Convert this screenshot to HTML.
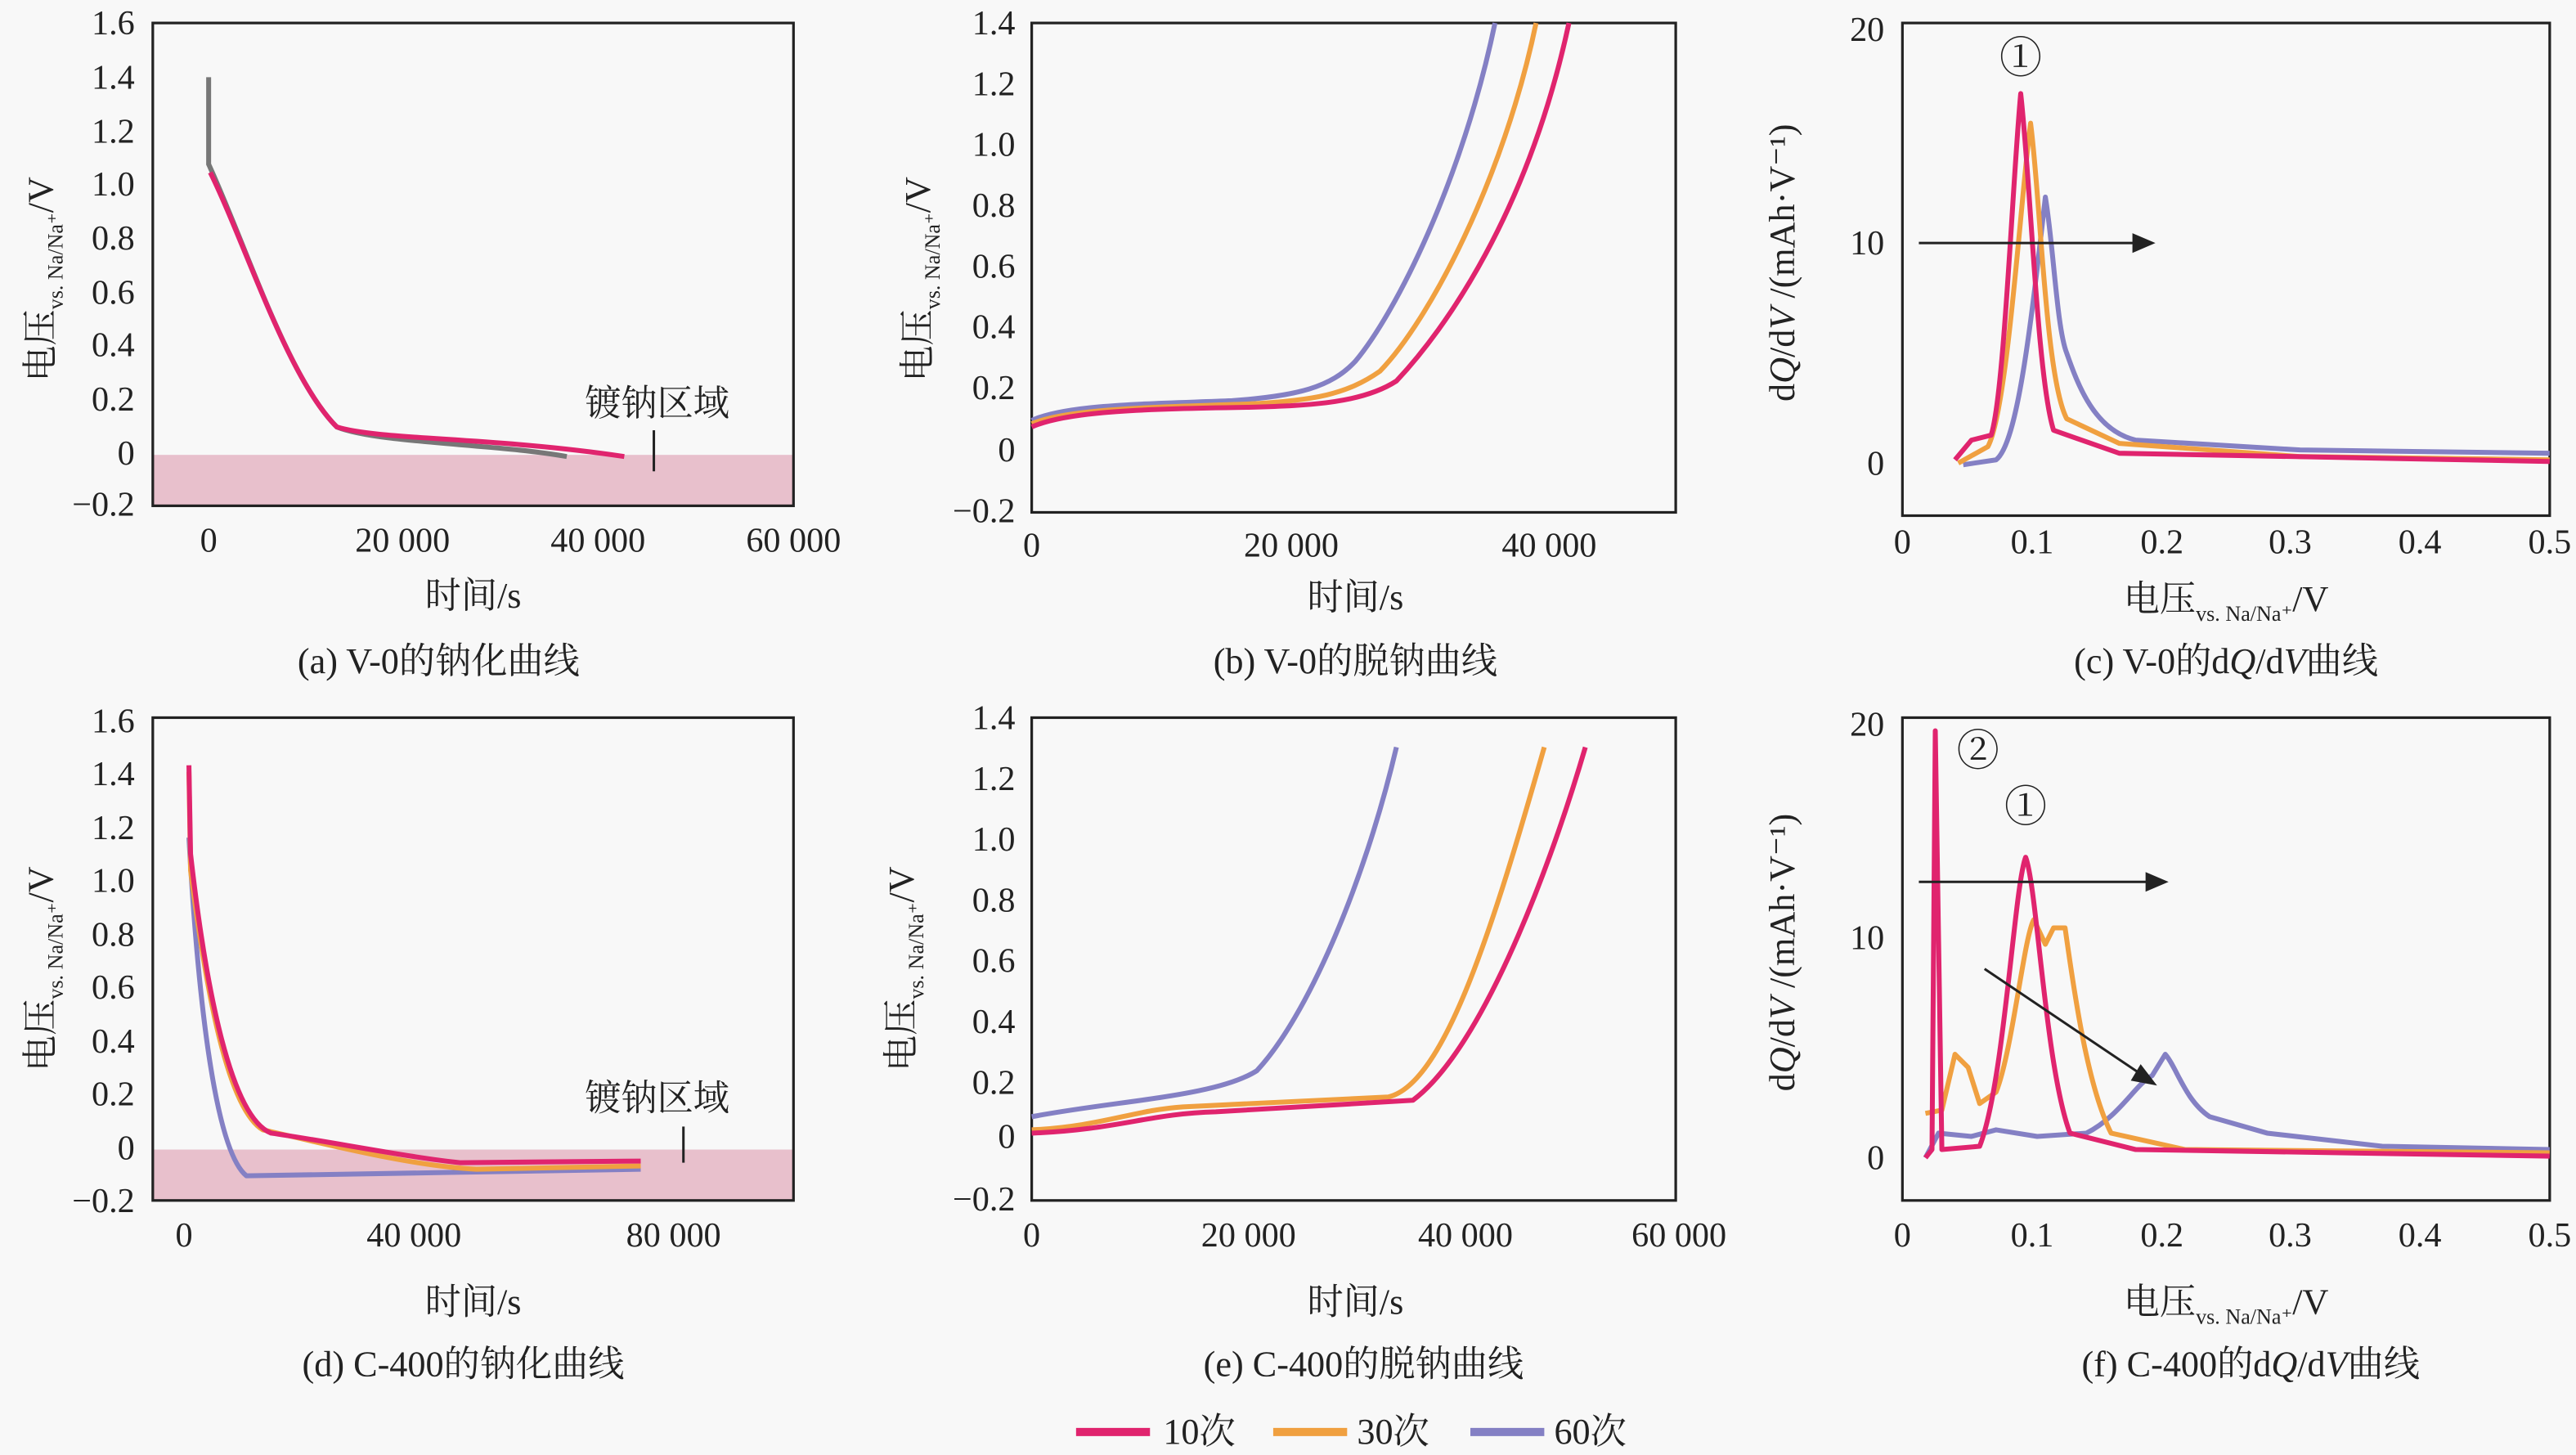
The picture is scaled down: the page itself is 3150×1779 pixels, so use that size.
<!DOCTYPE html>
<html><head><meta charset="utf-8"><style>
html,body{margin:0;padding:0;background:#f8f8f8;}
svg{display:block;}
text{font-family:"Liberation Serif","Noto Serif CJK SC",serif;fill:#222;}
.t{font-size:21px;}
.c{font-size:22px;}
.f{fill:none;stroke:#222;stroke-width:1.6;}
.p{fill:none;stroke:#e0246e;stroke-width:3;stroke-linejoin:round;}
.o{fill:none;stroke:#f0a040;stroke-width:3;stroke-linejoin:round;}
.u{fill:none;stroke:#8480c4;stroke-width:3;stroke-linejoin:round;}
.g{fill:none;stroke:#777;stroke-width:3;}
</style></head><body>
<svg width="3150" height="1779" viewBox="0 0 1568 886" preserveAspectRatio="none">
<rect width="1568" height="886" fill="#f8f8f8"/>
<!-- Panel a -->
<rect x="93" y="277" width="390" height="31" fill="#e8c0cc"/>
<rect class="f" x="93" y="14" width="390" height="294"/>
<g class="t" text-anchor="end">
<text x="82" y="21">1.6</text><text x="82" y="54">1.4</text><text x="82" y="87">1.2</text><text x="82" y="119">1.0</text><text x="82" y="152">0.8</text><text x="82" y="185">0.6</text><text x="82" y="217">0.4</text><text x="82" y="250">0.2</text><text x="82" y="283">0</text><text x="82" y="314">−0.2</text></g>
<g class="t" text-anchor="middle"><text x="127" y="336">0</text><text x="245" y="336">20 000</text><text x="364" y="336">40 000</text><text x="483" y="336">60 000</text></g>
<text class="c" x="288" y="370" text-anchor="middle">时间/s</text>
<text class="c" x="400" y="253" text-anchor="middle">镀钠区域</text>
<line x1="398" y1="262" x2="398" y2="287" stroke="#222" stroke-width="1.5"/>
<path class="g" d="M127,47 L127,100 C150,150 175,230 205,260 C230,270 300,270 345,278"/>
<path class="p" d="M128,105 C150,150 175,230 205,260 C230,268 300,266 380,278"/>
<text class="c" transform="translate(32,170) rotate(-90)" text-anchor="middle">电压<tspan font-size="13" dy="6">vs. Na/Na⁺</tspan><tspan dy="-6">/V</tspan></text>
<text class="c" x="267" y="410" text-anchor="middle">(a) V-0的钠化曲线</text>
<!-- Panel b -->
<rect class="f" x="628" y="14" width="392" height="298"/>
<g class="t" text-anchor="end">
<text x="618" y="21">1.4</text><text x="618" y="58">1.2</text><text x="618" y="95">1.0</text><text x="618" y="132">0.8</text><text x="618" y="169">0.6</text><text x="618" y="206">0.4</text><text x="618" y="243">0.2</text><text x="618" y="281">0</text><text x="618" y="318">−0.2</text></g>
<g class="t" text-anchor="middle"><text x="628" y="339">0</text><text x="786" y="339">20 000</text><text x="943" y="339">40 000</text></g>
<text class="c" x="825" y="371" text-anchor="middle">时间/s</text>
<path class="u" d="M628,256 C650,246 700,246 750,244 C790,241 810,236 825,220 C850,190 890,110 910,14"/>
<path class="o" d="M628,258 C650,249 700,248 760,246 C800,244 820,240 840,226 C870,195 915,110 935,14"/>
<path class="p" d="M628,260 C650,250 700,249 760,248 C800,247 830,245 850,232 C880,200 930,130 955,14"/>
<text class="c" transform="translate(566,170) rotate(-90)" text-anchor="middle">电压<tspan font-size="13" dy="6">vs. Na/Na⁺</tspan><tspan dy="-6">/V</tspan></text>
<text class="c" x="825" y="410" text-anchor="middle">(b) V-0的脱钠曲线</text>
<!-- Panel c -->
<rect class="f" x="1158" y="14" width="394" height="300"/>
<g class="t" text-anchor="end"><text x="1147" y="25">20</text><text x="1147" y="155">10</text><text x="1147" y="289">0</text></g>
<g class="t" text-anchor="middle"><text x="1158" y="337">0</text><text x="1237" y="337">0.1</text><text x="1316" y="337">0.2</text><text x="1394" y="337">0.3</text><text x="1473" y="337">0.4</text><text x="1552" y="337">0.5</text></g>
<text class="c" x="1355" y="372" text-anchor="middle">电压<tspan font-size="13" dy="6">vs. Na/Na⁺</tspan><tspan dy="-6">/V</tspan></text>
<path class="u" d="M1195,283 L1215,280 C1228,270 1236,200 1245,120 C1250,150 1252,200 1258,215 C1265,235 1275,262 1300,268 L1400,274 L1552,276"/>
<path class="o" d="M1192,282 L1210,272 C1222,250 1230,120 1236,75 C1242,120 1245,230 1258,255 L1290,270 L1400,278 L1552,280"/>
<path class="p" d="M1190,280 L1200,268 L1212,265 C1220,240 1225,110 1230,57 C1236,110 1240,230 1250,262 L1290,276 L1552,281"/>
<line x1="1168" y1="148" x2="1305" y2="148" stroke="#222" stroke-width="1.5"/><polygon points="1312,148 1298,142 1298,154" fill="#222"/>
<text x="1230" y="44" font-size="26" text-anchor="middle">①</text>
<text class="c" transform="translate(1092,160) rotate(-90)" text-anchor="middle">d<tspan font-style="italic">Q</tspan>/d<tspan font-style="italic">V</tspan> /(mAh·V⁻¹)</text>
<text class="c" x="1355" y="410" text-anchor="middle">(c) V-0的d<tspan font-style="italic">Q</tspan>/d<tspan font-style="italic">V</tspan>曲线</text>
<!-- Panel d -->
<rect x="93" y="700" width="390" height="31" fill="#e8c0cc"/>
<rect class="f" x="93" y="437" width="390" height="294"/>
<g class="t" text-anchor="end">
<text x="82" y="446">1.6</text><text x="82" y="478">1.4</text><text x="82" y="511">1.2</text><text x="82" y="543">1.0</text><text x="82" y="576">0.8</text><text x="82" y="608">0.6</text><text x="82" y="641">0.4</text><text x="82" y="673">0.2</text><text x="82" y="706">0</text><text x="82" y="738">−0.2</text></g>
<g class="t" text-anchor="middle"><text x="112" y="759">0</text><text x="252" y="759">40 000</text><text x="410" y="759">80 000</text></g>
<text class="c" x="288" y="800" text-anchor="middle">时间/s</text>
<text class="c" x="400" y="676" text-anchor="middle">镀钠区域</text>
<line x1="416" y1="686" x2="416" y2="708" stroke="#222" stroke-width="1.5"/>
<path class="u" d="M115,510 C120,600 130,700 150,716 L270,714 L390,712"/>
<path class="o" d="M115,470 L116,530 C125,600 138,675 160,688 C200,697 250,710 290,712 L390,710"/>
<path class="p" d="M115,466 L116,520 C125,600 140,680 165,690 C200,695 250,705 280,708 L390,707"/>
<text class="c" transform="translate(32,590) rotate(-90)" text-anchor="middle">电压<tspan font-size="13" dy="6">vs. Na/Na⁺</tspan><tspan dy="-6">/V</tspan></text>
<text class="c" x="282" y="838" text-anchor="middle">(d) C-400的钠化曲线</text>
<!-- Panel e -->
<rect class="f" x="628" y="437" width="392" height="294"/>
<g class="t" text-anchor="end">
<text x="618" y="444">1.4</text><text x="618" y="481">1.2</text><text x="618" y="518">1.0</text><text x="618" y="555">0.8</text><text x="618" y="592">0.6</text><text x="618" y="629">0.4</text><text x="618" y="666">0.2</text><text x="618" y="699">0</text><text x="618" y="737">−0.2</text></g>
<g class="t" text-anchor="middle"><text x="628" y="759">0</text><text x="760" y="759">20 000</text><text x="892" y="759">40 000</text><text x="1022" y="759">60 000</text></g>
<text class="c" x="825" y="800" text-anchor="middle">时间/s</text>
<path class="u" d="M628,680 C680,670 740,668 765,652 C795,620 830,540 850,455"/>
<path class="o" d="M628,688 C670,686 690,676 720,674 L845,668 C880,660 910,560 940,455"/>
<path class="p" d="M628,690 C680,688 700,678 740,677 L860,670 C900,640 940,540 965,455"/>
<text class="c" transform="translate(556,590) rotate(-90)" text-anchor="middle">电压<tspan font-size="13" dy="6">vs. Na/Na⁺</tspan><tspan dy="-6">/V</tspan></text>
<text class="c" x="830" y="838" text-anchor="middle">(e) C-400的脱钠曲线</text>
<!-- Panel f -->
<rect class="f" x="1158" y="437" width="394" height="294"/>
<g class="t" text-anchor="end"><text x="1147" y="448">20</text><text x="1147" y="578">10</text><text x="1147" y="712">0</text></g>
<g class="t" text-anchor="middle"><text x="1158" y="759">0</text><text x="1237" y="759">0.1</text><text x="1316" y="759">0.2</text><text x="1394" y="759">0.3</text><text x="1473" y="759">0.4</text><text x="1552" y="759">0.5</text></g>
<text class="c" x="1355" y="800" text-anchor="middle">电压<tspan font-size="13" dy="6">vs. Na/Na⁺</tspan><tspan dy="-6">/V</tspan></text>
<path class="u" d="M1172,705 L1180,690 L1200,692 L1215,688 L1240,692 L1270,690 C1290,680 1300,660 1310,655 L1318,642 C1325,650 1330,670 1345,680 L1380,690 L1450,698 L1552,700"/>
<path class="o" d="M1172,678 L1182,676 L1190,642 L1198,650 L1205,672 L1215,665 C1225,640 1232,570 1238,560 L1245,575 L1250,565 L1257,565 C1262,600 1270,660 1285,690 L1330,700 L1552,702"/>
<path class="p" d="M1172,705 L1176,700 L1178,445 L1182,700 L1205,698 C1220,660 1226,540 1233,522 C1240,540 1245,650 1260,690 L1300,700 L1552,704"/>
<line x1="1168" y1="537" x2="1312" y2="537" stroke="#222" stroke-width="1.5"/><polygon points="1320,537 1306,531 1306,543" fill="#222"/>
<line x1="1208" y1="590" x2="1306" y2="656" stroke="#222" stroke-width="1.5"/><polygon points="1313,661 1303,648 1297,658" fill="#222"/>
<text x="1204" y="466" font-size="26" text-anchor="middle">②</text>
<text x="1233" y="500" font-size="26" text-anchor="middle">①</text>
<text class="c" transform="translate(1092,580) rotate(-90)" text-anchor="middle">d<tspan font-style="italic">Q</tspan>/d<tspan font-style="italic">V</tspan> /(mAh·V⁻¹)</text>
<text class="c" x="1370" y="838" text-anchor="middle">(f) C-400的d<tspan font-style="italic">Q</tspan>/d<tspan font-style="italic">V</tspan>曲线</text>
<!-- legend -->
<line x1="655" y1="872" x2="700" y2="872" stroke="#e0246e" stroke-width="5"/><text class="c" x="708" y="879">10次</text>
<line x1="775" y1="872" x2="820" y2="872" stroke="#f0a040" stroke-width="5"/><text class="c" x="826" y="879">30次</text>
<line x1="895" y1="872" x2="940" y2="872" stroke="#8480c4" stroke-width="5"/><text class="c" x="946" y="879">60次</text>
</svg>
</body></html>
